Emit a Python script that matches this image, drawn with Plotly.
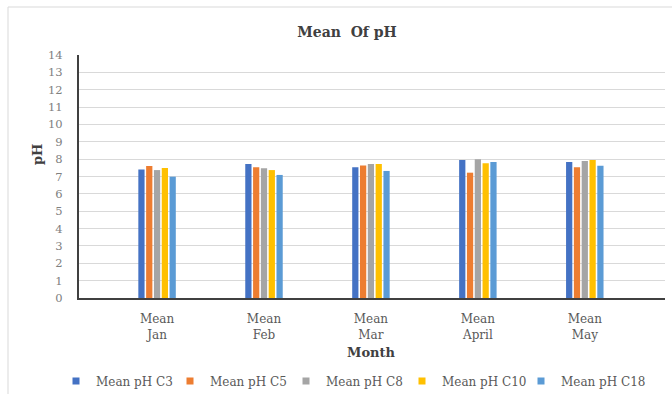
import plotly.graph_objects as go

# Monthly mean pH at five sampling points
months = ["Mean<br>Jan", "Mean<br>Feb", "Mean<br>Mar", "Mean<br>April", "Mean<br>May"]
series_names = ["Mean pH C3", "Mean pH C5", "Mean pH C8", "Mean pH C10", "Mean pH C18"]
ph_c3 = [7.41, 7.72, 7.53, 7.95, 7.83]
ph_c5 = [7.60, 7.53, 7.64, 7.22, 7.53]
ph_c8 = [7.37, 7.47, 7.72, 7.99, 7.89]
ph_c10 = [7.49, 7.37, 7.72, 7.76, 7.95]
ph_c18 = [6.99, 7.09, 7.32, 7.83, 7.62]
y_ticks = list(range(0, 15))

series_values = [ph_c3, ph_c5, ph_c8, ph_c10, ph_c18]
colors = ["#4472C4", "#ED7D31", "#A5A5A5", "#FFC000", "#5B9BD5"]
key_px = [75, 189, 305, 421, 540]  # horizontal pixel position of each legend key

FONT = "DejaVu Serif"
W, H = 672, 394
L, R, T, B = 79, 7, 55, 96
pw, ph = W - L - R, H - T - B
LEG_Y = (298 - 381) / ph

fig = go.Figure()
for name, vals, col in zip(series_names, series_values, colors):
    fig.add_trace(go.Bar(x=list(range(len(months))), y=vals, name=name,
                         marker=dict(color=col, line=dict(width=0)),
                         showlegend=False))

# one small legend box per series, laid out in a row below the axis title
legend_font = dict(family=FONT, size=12, color="#595959")
legend_boxes = {}
for i, (name, col, kx) in enumerate(zip(series_names, colors, key_px)):
    lid = "legend" if i == 0 else f"legend{i + 1}"
    fig.add_trace(go.Scatter(x=[None], y=[None], mode="markers", name=name,
                             legend=lid,
                             marker=dict(symbol="square", size=7, color=col)))
    legend_boxes[lid] = dict(orientation="h", x=(kx - 19 - L) / pw, xanchor="left",
                             y=LEG_Y, yanchor="middle", font=legend_font,
                             itemwidth=30, bgcolor="rgba(0,0,0,0)")

fig.update_layout(
    width=W, height=H,
    margin=dict(l=L, r=R, t=T, b=B, autoexpand=False),
    paper_bgcolor="white", plot_bgcolor="white",
    barmode="group", bargap=0.635, bargroupgap=0.2,
    font=dict(family=FONT, color="#595959"),
    title=dict(text="<b>Mean  Of pH</b>", xref="container", yref="container",
               x=347 / W, y=1 - 32 / H, xanchor="center", yanchor="middle",
               font=dict(family=FONT, size=14, color="#404040")),
    showlegend=True,
    xaxis=dict(range=[-0.73, 4.75], tickmode="array",
               tickvals=list(range(len(months))), ticktext=months,
               showgrid=False, zeroline=False,
               showline=True, linecolor="#404040", linewidth=2,
               ticks="", ticklabelstandoff=9,
               tickfont=dict(family=FONT, size=12, color="#595959")),
    yaxis=dict(range=[0, 14], tickvals=y_ticks, showgrid=True,
               gridcolor="#D9D9D9", gridwidth=1, zeroline=False,
               showline=True, linecolor="#404040", linewidth=2,
               ticks="", ticklabelstandoff=12,
               tickfont=dict(family=FONT, size=11.5, color="#808080")),
    annotations=[
        dict(text="<b>pH</b>", xref="paper", yref="paper",
             x=(37 - L) / pw, y=(298 - 155) / ph, showarrow=False,
             xanchor="center", yanchor="middle",
             textangle=-90, font=dict(family=FONT, size=13, color="#404040")),
        dict(text="<b>Month</b>", xref="paper", yref="paper",
             x=(371 - L) / pw, y=(298 - 352) / ph, showarrow=False,
             xanchor="center", yanchor="middle",
             font=dict(family=FONT, size=13, color="#404040")),
    ],
    shapes=[
        dict(type="rect", xref="paper", yref="paper",
             x0=(8 - L) / pw, x1=(W + 2 - L) / pw,
             y0=(298 - H - 2) / ph, y1=(298 - 7) / ph,
             line=dict(color="#D9D9D9", width=1), layer="below"),
    ],
)
fig.update_layout(**legend_boxes)

fig.write_html("out.html")
